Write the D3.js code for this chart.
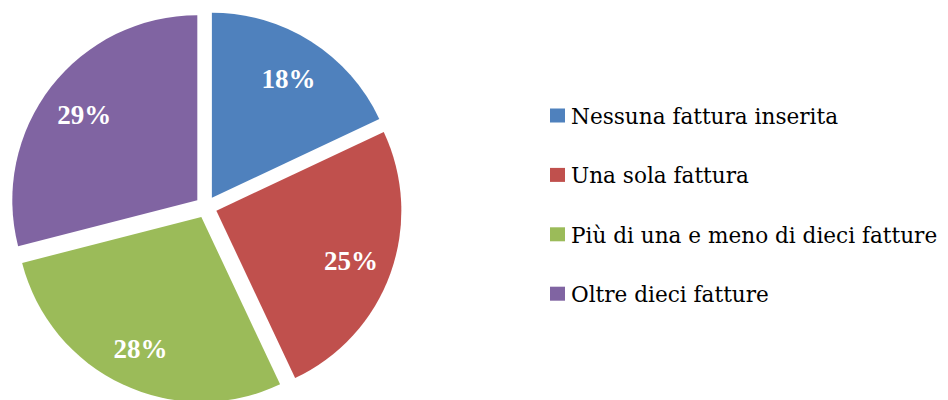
<!DOCTYPE html>
<html>
<head>
<meta charset="utf-8">
<script src="https://cdn.jsdelivr.net/npm/d3@7"></script>
<style>
	body { margin: 0; background: #fff; }
	svg { display: block; }
</style>
</head>
<body>
<svg id="chart" width="948" height="400"></svg>
<script>
const categories	= ['Nessuna fattura inserita', 'Una sola fattura', 'Più di una e meno di dieci fatture', 'Oltre dieci fatture'];
const values		= [18, 25, 28, 29];
const colors		= ['#4F81BD', '#C0504D', '#9BBB59', '#8064A2'];

let svg			= d3.select('#chart');

let cx			= 206, cy = 207;
let radius		= 185;
let explode		= 11;
let labelR		= 154;

let pie			= d3.pie().sort(null).value((d) => d);
let arc			= d3.arc().innerRadius(0).outerRadius(radius);
let color		= d3.scaleOrdinal().domain(categories).range(colors);

let arcs		= pie(values);
let canvas		= svg.append('g').attr('transform', 'translate(' + cx + ',' + cy + ')');

function dir(d) {
	let a = (d.startAngle + d.endAngle) / 2;
	return [Math.sin(a), -Math.cos(a)];
}

canvas.selectAll('path.slice').data(arcs).enter().append('path')
	.attr('class', 'slice')
	.attr('transform', (d) => { let v = dir(d); return 'translate(' + (v[0] * explode) + ',' + (v[1] * explode) + ')'; })
	.attr('d', arc)
	.style('fill', (d, i) => color(categories[i]));

canvas.selectAll('text.label').data(arcs).enter().append('text')
	.attr('class', 'label')
	.attr('x', (d) => dir(d)[0] * labelR)
	.attr('y', (d) => dir(d)[1] * labelR + 2)
	.attr('dy', '0.34em')
	.attr('text-anchor', 'middle')
	.style('font-family', '"Liberation Serif", serif')
	.style('font-weight', 'bold')
	.style('font-size', '27px')
	.style('fill', '#fff')
	.text((d) => d.value + '%');

let legend		= svg.append('g').attr('transform', 'translate(550,0)');
let rowY		= d3.scalePoint().domain(categories).range([115.5, 293.7]);

let rows		= legend.selectAll('g.row').data(categories).enter().append('g')
	.attr('class', 'row')
	.attr('transform', (d) => 'translate(0,' + rowY(d) + ')');

rows.append('rect').attr('x', 0).attr('y', -7).attr('width', 15).attr('height', 14).style('fill', (d) => color(d));
rows.append('text')
	.attr('x', 21)
	.attr('y', 8.5)
	.style('font-family', '"DejaVu Serif", serif')
	.style('font-size', '21.6px')
	.style('fill', '#000')
	.text((d) => d);
</script>
</body>
</html>
